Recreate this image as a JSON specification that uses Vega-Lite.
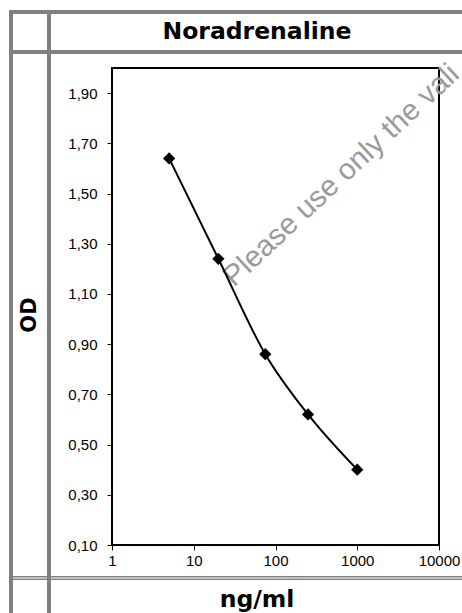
{
  "$schema": "https://vega.github.io/schema/vega-lite/v6.json",
  "padding": {"left": 9, "top": 10, "right": -5, "bottom": -27},
  "columns": 2,
  "spacing": 0,
  "bounds": "flush",
  "align": "each",
  "background": "white",
  "concat": [
    {
      "width": 38, "height": 40,
      "view": {"stroke": "#808080", "strokeWidth": 4},
      "data": {"values": [{"label": ""}]},
      "mark": {"type": "text"},
      "encoding": {"text": {"field": "label"}}
    },
    {
      "width": 416, "height": 40,
      "view": {"stroke": "#808080", "strokeWidth": 4},
      "data": {"values": [{"label": "Noradrenaline"}]},
      "mark": {"type": "text", "font": "DejaVu Sans", "fontWeight": "bold", "fontSize": 23.5, "color": "#000", "baseline": "middle", "align": "center"},
      "encoding": {"text": {"field": "label"}}
    },
    {
      "width": 38, "height": 526,
      "view": {"stroke": "#808080", "strokeWidth": 4},
      "data": {"values": [{"label": "OD"}]},
      "mark": {"type": "text", "font": "DejaVu Sans", "fontWeight": "bold", "fontSize": 21, "color": "#000", "angle": 270, "baseline": "middle", "align": "center"},
      "encoding": {"text": {"field": "label"}}
    },
    {
      "vconcat": [
        {
          "width": 1, "height": 1,
          "view": {"stroke": null},
          "data": {"values": [{"label": ""}]},
          "mark": {"type": "text"},
          "encoding": {"text": {"field": "label"}}
        },
        {
          "hconcat": [
            {
              "width": 1, "height": 1,
              "view": {"stroke": null},
              "data": {"values": [{"label": ""}]},
              "mark": {"type": "text"},
              "encoding": {"text": {"field": "label"}}
            },
            {
              "width": 327, "height": 477,
              "view": {"stroke": "#000", "strokeWidth": 2},
              "layer": [
                {
                  "data": {"values": [{"note": "Please use only the vali"}]},
                  "mark": {"type": "text", "font": "Liberation Sans", "fontSize": 29.5, "fill": "#9a9a9a", "angle": 317, "align": "left", "baseline": "alphabetic"},
                  "encoding": {
                    "x": {"datum": 31.1, "type": "quantitative", "scale": {"type": "log", "domain": [1, 10000], "nice": false}},
                    "y": {"datum": 1.125, "type": "quantitative", "scale": {"domain": [0.1, 2.0], "nice": false, "zero": false}},
                    "text": {"field": "note", "type": "nominal"}
                  }
                },
                {
                  "data": {"values": [
                    {"conc": 5, "od": 1.64},
                    {"conc": 20, "od": 1.24},
                    {"conc": 75, "od": 0.86},
                    {"conc": 250, "od": 0.62},
                    {"conc": 1000, "od": 0.40}
                  ]},
                  "encoding": {
                    "x": {
                      "field": "conc", "type": "quantitative",
                      "scale": {"type": "log", "domain": [1, 10000], "nice": false},
                      "axis": {"values": [1, 10, 100, 1000, 10000], "format": "d", "title": null, "grid": false, "domain": false,
                        "tickSize": 5, "tickColor": "#000", "tickWidth": 1, "labelFont": "Liberation Sans", "labelFontSize": 15,
                        "labelColor": "#000", "labelPadding": 3, "labelFlush": false, "labelOverlap": false}
                    },
                    "y": {
                      "field": "od", "type": "quantitative",
                      "scale": {"domain": [0.1, 2.0], "nice": false, "zero": false},
                      "axis": {"values": [0.1, 0.3, 0.5, 0.7, 0.9, 1.1, 1.3, 1.5, 1.7, 1.9],
                        "labelExpr": "replace(format(datum.value, '.2f'), '.', ',')",
                        "title": null, "grid": false, "domain": false,
                        "tickSize": 5, "tickColor": "#000", "tickWidth": 1, "labelFont": "Liberation Sans", "labelFontSize": 15,
                        "labelColor": "#000", "labelPadding": 10, "labelFlush": false, "labelOverlap": false}
                    }
                  },
                  "layer": [
                    {
                      "mark": {"type": "line", "interpolate": "monotone", "color": "#000", "strokeWidth": 2}
                    },
                    {
                      "mark": {"type": "point", "shape": "diamond", "filled": true, "color": "#000", "size": 150, "opacity": 1}
                    }
                  ]
                }
              ]
            }
          ],
          "spacing": 62,
          "bounds": "flush"
        }
      ],
      "spacing": 15,
      "bounds": "flush"
    },
    {
      "width": 38, "height": 60,
      "view": {"stroke": "#808080", "strokeWidth": 4},
      "data": {"values": [{"label": ""}]},
      "layer": [
        {
          "mark": {"type": "rule", "color": "#ffffff", "strokeWidth": 1},
          "encoding": {
            "x": {"datum": 0.053, "type": "quantitative", "scale": {"domain": [0, 1], "nice": false}, "axis": null},
            "x2": {"datum": 0.947},
            "y": {"datum": 1, "type": "quantitative", "scale": {"domain": [0, 1], "nice": false}, "axis": null}
          }
        }
      ]
    },
    {
      "width": 416, "height": 60,
      "view": {"stroke": "#808080", "strokeWidth": 4},
      "data": {"values": [{"label": "ng/ml"}]},
      "layer": [
        {
          "mark": {"type": "rule", "color": "#ffffff", "strokeWidth": 1},
          "encoding": {
            "x": {"datum": 0.005, "type": "quantitative", "scale": {"domain": [0, 1], "nice": false}, "axis": null},
            "x2": {"datum": 0.995},
            "y": {"datum": 1, "type": "quantitative", "scale": {"domain": [0, 1], "nice": false}, "axis": null}
          }
        },
        {
          "mark": {"type": "text", "font": "DejaVu Sans", "fontWeight": "bold", "fontSize": 23.5, "color": "#000", "baseline": "middle", "align": "center"},
          "encoding": {
            "text": {"field": "label"},
            "y": {"datum": 0.633, "type": "quantitative"}
          }
        }
      ]
    }
  ]
}
